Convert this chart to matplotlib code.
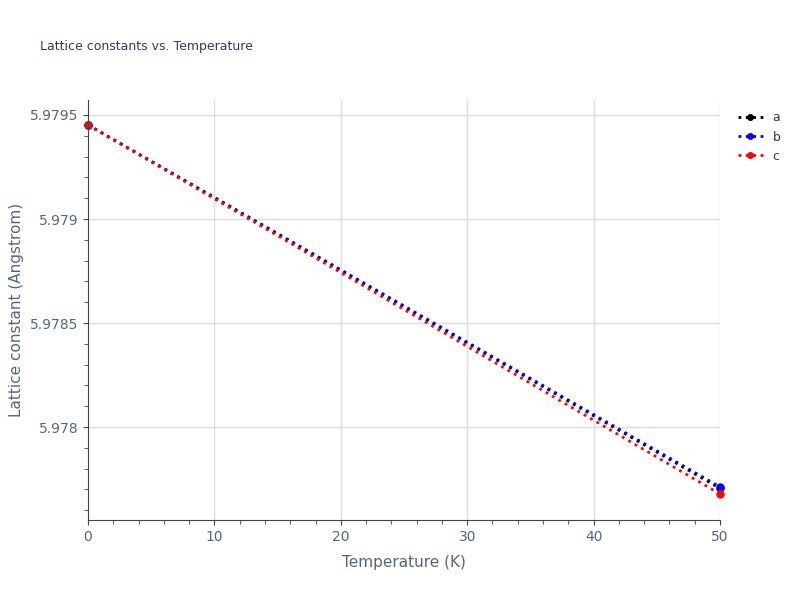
import matplotlib
matplotlib.use("Agg")
import matplotlib.pyplot as plt
from matplotlib.ticker import MultipleLocator

temps = [0, 50]
a_vals = [5.979452, 5.977705]
b_vals = [5.979452, 5.977712]
c_vals = [5.979452, 5.977678]

fig = plt.figure(figsize=(8, 6), dpi=100)
ax = fig.add_axes([0.11, 0.1333, 0.79, 0.7])
for vals, col, lab in [(a_vals, "black", "a"), (b_vals, "blue", "b"), (c_vals, "red", "c")]:
    ax.plot(temps, vals, linestyle=":", color=col, lw=2, marker="o", ms=5, label=lab, clip_on=False)

ax.set_xlim(0, 50)
ax.set_ylim(5.977553, 5.979572)
ax.set_xticks([0, 10, 20, 30, 40, 50])
ax.set_yticks([5.978, 5.9785, 5.979, 5.9795])
ax.set_yticklabels(["5.978", "5.9785", "5.979", "5.9795"])
ax.xaxis.set_minor_locator(MultipleLocator(2))
ax.yaxis.set_minor_locator(MultipleLocator(0.0001))
ax.grid(True, color="#dddddd", lw=1)
ax.set_axisbelow(True)
for s in ["top", "right"]:
    ax.spines[s].set_visible(False)
for s in ["left", "bottom"]:
    ax.spines[s].set_color("#444444")
ax.tick_params(colors="#444444", labelcolor="#506784", labelsize=10, direction="out")
ax.tick_params(which="minor", length=3, color="#444444")
ax.set_xlabel("Temperature (K)", color="#506784", fontsize=11, labelpad=8)
ax.set_ylabel("Lattice constant (Angstrom)", color="#506784", fontsize=11)
fig.text(0.05, 0.917, "Lattice constants vs. Temperature", color="#2a3f5f", fontsize=9)
leg = ax.legend(loc="upper left", bbox_to_anchor=(1.01, 1.0), frameon=False, fontsize=9,
                handlelength=2, labelcolor="#2a3f5f", markerscale=0.8)
fig.savefig("out.png", dpi=100)
